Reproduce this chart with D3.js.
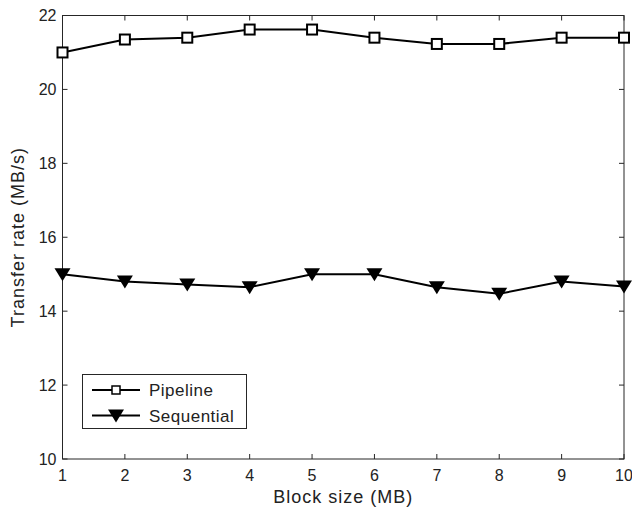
<!DOCTYPE html>
<html>
<head>
<meta charset="utf-8">
<script src="https://cdn.jsdelivr.net/npm/d3@7"></script>
<style>
  body { margin: 0; background: #fff; }
  svg { display: block; font-family: "Liberation Sans", Arial, sans-serif; }
</style>
</head>
<body>
<div id="chart"></div>
<script>
// block sizes and measured transfer rates
const blockSizes = [1, 2, 3, 4, 5, 6, 7, 8, 9, 10];
const pipeline = [21.0, 21.35, 21.4, 21.62, 21.62, 21.4, 21.23, 21.23, 21.4, 21.4];
const sequential = [15.0, 14.8, 14.72, 14.65, 15.0, 15.0, 14.65, 14.47, 14.8, 14.67];
const yTicks = [10, 12, 14, 16, 18, 20, 22];

const width = 632, height = 510;
const margin = {top: 15.5, right: 8, bottom: 51, left: 62.5};

const svg = d3.select('#chart').append('svg')
    .attr('width', width)
    .attr('height', height);

const x = d3.scaleLinear().domain([1, 10]).range([margin.left, width - margin.right]);
const y = d3.scaleLinear().domain([10, 22]).range([height - margin.bottom, margin.top]);

const axisColor = '#262626';
const tickLen = 5;

// frame
svg.append('rect')
    .attr('x', x(1)).attr('y', y(22))
    .attr('width', x(10) - x(1)).attr('height', y(10) - y(22))
    .attr('fill', 'none').attr('stroke', axisColor).attr('stroke-width', 1);

// ticks on all four sides, pointing inward
const g = svg.append('g').attr('stroke', axisColor).attr('stroke-width', 1);
blockSizes.forEach(v => {
    g.append('line').attr('x1', x(v)).attr('x2', x(v)).attr('y1', y(10)).attr('y2', y(10) - tickLen);
    g.append('line').attr('x1', x(v)).attr('x2', x(v)).attr('y1', y(22)).attr('y2', y(22) + tickLen);
});
yTicks.forEach(v => {
    g.append('line').attr('x1', x(1)).attr('x2', x(1) + tickLen).attr('y1', y(v)).attr('y2', y(v));
    g.append('line').attr('x1', x(10)).attr('x2', x(10) - tickLen).attr('y1', y(v)).attr('y2', y(v));
});

// tick labels
svg.append('g').selectAll('text').data(blockSizes).join('text')
    .attr('x', d => x(d)).attr('y', y(10) + 22)
    .attr('text-anchor', 'middle')
    .attr('font-size', 16).attr('fill', '#222')
    .text(d => d);

svg.append('g').selectAll('text').data(yTicks).join('text')
    .attr('x', x(1) - 6).attr('y', d => y(d)).attr('dy', '0.36em')
    .attr('text-anchor', 'end')
    .attr('font-size', 16).attr('fill', '#222')
    .text(d => d);

// axis titles
svg.append('text')
    .attr('x', (x(1) + x(10)) / 2 + 0).attr('y', 503)
    .attr('text-anchor', 'middle')
    .attr('font-size', 18).attr('letter-spacing', 1).attr('fill', '#222')
    .text('Block size (MB)');

svg.append('text')
    .attr('transform', `translate(24,${(y(10) + y(22)) / 2}) rotate(-90)`)
    .attr('text-anchor', 'middle')
    .attr('font-size', 18).attr('letter-spacing', 1).attr('fill', '#222')
    .text('Transfer rate (MB/s)');

const line = d3.line().x((d, i) => x(blockSizes[i])).y(d => y(d));

const triangle = 'M-8,-6L8,-6L0,7Z';

function drawSeries(values, marker) {
    svg.append('path')
        .datum(values)
        .attr('d', line)
        .attr('fill', 'none').attr('stroke', '#000').attr('stroke-width', 2);
    const pts = svg.append('g').selectAll('g').data(values).join('g')
        .attr('transform', (d, i) => `translate(${x(blockSizes[i])},${y(d)})`);
    if (marker === 'square') {
        pts.append('rect')
            .attr('x', -5).attr('y', -5).attr('width', 10).attr('height', 10)
            .attr('fill', '#fff').attr('stroke', '#000').attr('stroke-width', 2);
    } else {
        pts.append('path').attr('d', triangle).attr('fill', '#000');
    }
}

drawSeries(pipeline, 'square');
drawSeries(sequential, 'triangle');

// legend
const legend = svg.append('g');
legend.append('rect')
    .attr('x', 82.5).attr('y', 374.5).attr('width', 164).attr('height', 54)
    .attr('fill', '#fff').attr('stroke', axisColor).attr('stroke-width', 1);

const items = [
    {name: 'Pipeline', marker: 'square', yy: 390},
    {name: 'Sequential', marker: 'triangle', yy: 415.5}
];
items.forEach(it => {
    legend.append('line')
        .attr('x1', 92).attr('x2', 140).attr('y1', it.yy).attr('y2', it.yy)
        .attr('stroke', '#000').attr('stroke-width', 2);
    if (it.marker === 'square') {
        legend.append('rect')
            .attr('x', 116 - 4).attr('y', it.yy - 4).attr('width', 8).attr('height', 8)
            .attr('fill', '#fff').attr('stroke', '#000').attr('stroke-width', 1.5);
    } else {
        legend.append('path')
            .attr('transform', `translate(116,${it.yy})`)
            .attr('d', triangle).attr('fill', '#000');
    }
    legend.append('text')
        .attr('x', 149).attr('y', it.yy).attr('dy', '0.36em')
        .attr('font-size', 17).attr('letter-spacing', 0.5).attr('fill', '#222')
        .text(it.name);
});
</script>
</body>
</html>
